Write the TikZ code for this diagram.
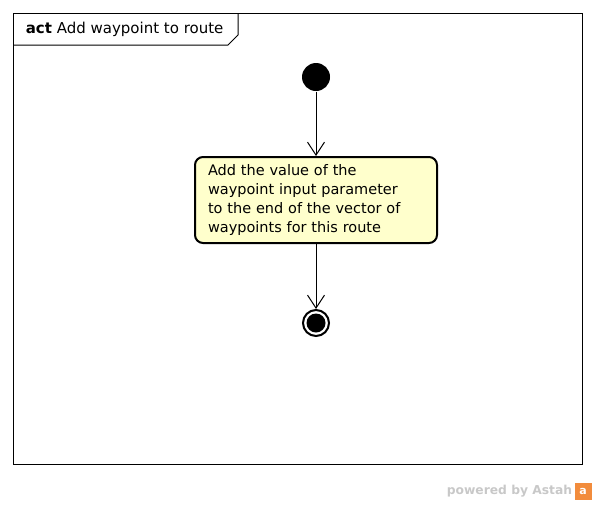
\documentclass[tikz,border=0pt]{standalone}
\usepackage{fontspec}
\setmainfont{DejaVu Sans}
\usetikzlibrary{arrows.meta}
\definecolor{actfill}{RGB}{255,255,204}
\definecolor{markgray}{RGB}{200,200,200}
\definecolor{markorange}{RGB}{242,140,60}

\begin{document}
\begin{tikzpicture}[x=1pt,y=-1pt,line width=1pt,>={Straight Barb[length=13pt,width=17pt]}]
    \useasboundingbox (0,0) rectangle (596,504);
    % frame
    \draw (13,13) rectangle (582,464);
    \draw (13,45) -- (228,45) -- (238,35) -- (238,13);
    \node[anchor=west,font=\fontsize{15}{17}\selectfont] (T) at (22,29) {\textbf{act} Add waypoint to route};

    \node[circle,fill,inner sep=0pt,minimum size=28pt] (I) at (316,77) {};
    \node[draw,line width=2pt,rounded corners=8pt,fill=actfill,text width=216pt,inner xsep=13pt,minimum height=86pt,align=left,font=\fontsize{14.5}{19}\selectfont] (A) at (316,200) {Add the value of the\\waypoint input parameter\\to the end of the vector of\\waypoints for this route};
    \node[circle,draw,line width=2pt,inner sep=0pt,minimum size=26pt] (F) at (316,323) {};
    \fill (F) circle (9.5pt);

    \draw[->] (I) -- (A);
    \draw[->] (A) -- (F);

    % watermark
    \node[anchor=east,text=markgray,font=\bfseries\fontsize{12.3}{14}\selectfont] (W) at (576,491) {powered by Astah};
    \node[fill=markorange,text=white,inner sep=0pt,minimum size=17pt,font=\bfseries\fontsize{11}{12}\selectfont,anchor=west] (L) at ([xshift=-2pt]W.east) {a};
\end{tikzpicture}
\end{document}
